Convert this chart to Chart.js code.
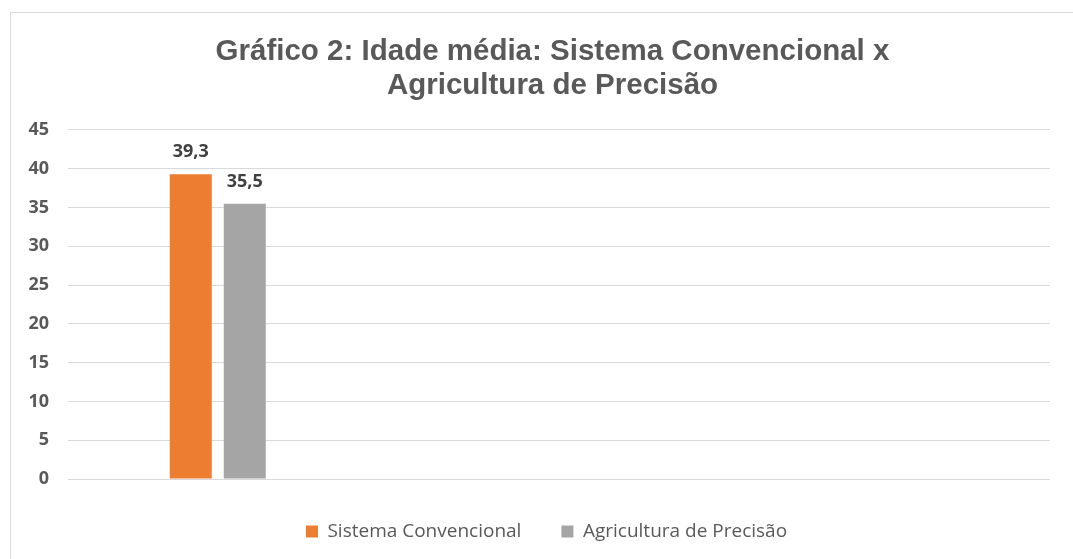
<!DOCTYPE html>
<html lang="pt-BR">
<head>
<meta charset="utf-8">
<title>Gráfico 2: Idade média</title>
<script src="https://cdn.jsdelivr.net/npm/chart.js@4.4.1/dist/chart.umd.min.js"></script>
<style>
    html, body {
        margin: 0;
        padding: 0;
        background: #fff;
        overflow: hidden;
    }
    .chart-frame {
        position: absolute;
        left: 10px;
        top: 12px;
        width: 1062px;
        height: 546px;
        border-left: 1px solid #d9d9d9;
        border-top: 1px solid #d9d9d9;
    }
</style>
</head>
<body>
<div class="chart-frame">
    <canvas id="myChart"></canvas>
</div>
<script>
// Chart data
const categories = ['Idade média', '', '', ''];
const seriesNames = ['Sistema Convencional', 'Agricultura de Precisão'];
const sistemaConvencional = [39.3, null, null, null];
const agriculturaPrecisao = [35.5, null, null, null];
const yTicks = [0, 5, 10, 15, 20, 25, 30, 35, 40, 45];

const titleLines = ['Gráfico 2: Idade média: Sistema Convencional x', 'Agricultura de Precisão'];

// number format with comma as decimal separator
const formatValue = (value) => value.toFixed(1).replace('.', ',');

// draws the value above each bar
const valueLabels = {
    id: 'valueLabels',
    afterDatasetsDraw: function(chart) {
        const ctx = chart.ctx;
        ctx.save();
        ctx.font = 'bold 18px "Open Sans"';
        ctx.fillStyle = '#404040';
        ctx.textAlign = 'center';
        ctx.textBaseline = 'middle';
        chart.data.datasets.forEach((dataset, i) => {
            const meta = chart.getDatasetMeta(i);
            if (!dataset.label || meta.hidden) return;
            meta.data.forEach((bar, index) => {
                const value = dataset.data[index];
                if (value === null || value === undefined) return;
                ctx.fillText(formatValue(value), bar.x, bar.y - 22);
            });
        });
        ctx.restore();
    }
};

// title and legend sit a little right of the canvas centre in the original
const boxShift = {
    id: 'boxShift',
    afterLayout: function(chart) {
        chart.titleBlock.left += 22;
        chart.titleBlock.right += 22;
        chart.legend.left += 16;
        chart.legend.right += 16;
    }
};

const ctx = document.getElementById('myChart').getContext('2d');

let myChart = new Chart(ctx, {
    type: 'bar',
    data: {
        labels: categories,
        datasets: [
            {
                // empty first series, as in the original sheet (keeps the bar slots)
                label: '',
                data: categories.map(() => null),
                backgroundColor: 'rgba(0,0,0,0)'
            },
            {
                label: seriesNames[0],
                data: sistemaConvencional,
                backgroundColor: '#ED7D31',
                borderWidth: 0
            },
            {
                label: seriesNames[1],
                data: agriculturaPrecisao,
                backgroundColor: '#A5A5A5',
                borderWidth: 0
            }
        ]
    },
    options: {
        responsive: true,
        maintainAspectRatio: false,
        animation: false,
        categoryPercentage: 0.66,
        barPercentage: 0.7778,
        layout: {
            padding: { top: 10, right: 23, bottom: 8, left: 0 }
        },
        scales: {
            x: {
                // no labels, only a small gap above the legend
                grid: { display: false, drawTicks: true, tickLength: 3 },
                border: { display: false },
                ticks: { display: false }
            },
            y: {
                min: 0,
                max: 45,
                afterBuildTicks: function(scale) {
                    scale.ticks = yTicks.map(v => ({ value: v }));
                },
                afterFit: function(scale) {
                    scale.width = 57;
                },
                border: { display: false },
                grid: {
                    color: '#d9d9d9',
                    lineWidth: 1,
                    drawTicks: false
                },
                ticks: {
                    padding: 19,
                    color: '#595959',
                    font: { family: 'Open Sans', size: 18, weight: 'bold' }
                }
            }
        },
        plugins: {
            title: {
                display: true,
                text: titleLines,
                color: '#595959',
                font: { family: 'Liberation Sans', size: 29.5, weight: 'bold', lineHeight: 1.152 },
                padding: { top: 12, bottom: 27 }
            },
            legend: {
                position: 'bottom',
                labels: {
                    filter: item => item.text !== '',
                    boxWidth: 12,
                    boxHeight: 12,
                    padding: 40,
                    color: '#595959',
                    font: { family: 'Open Sans', size: 19 }
                }
            },
            tooltip: { enabled: false }
        }
    },
    plugins: [valueLabels, boxShift]
});
</script>
</body>
</html>
